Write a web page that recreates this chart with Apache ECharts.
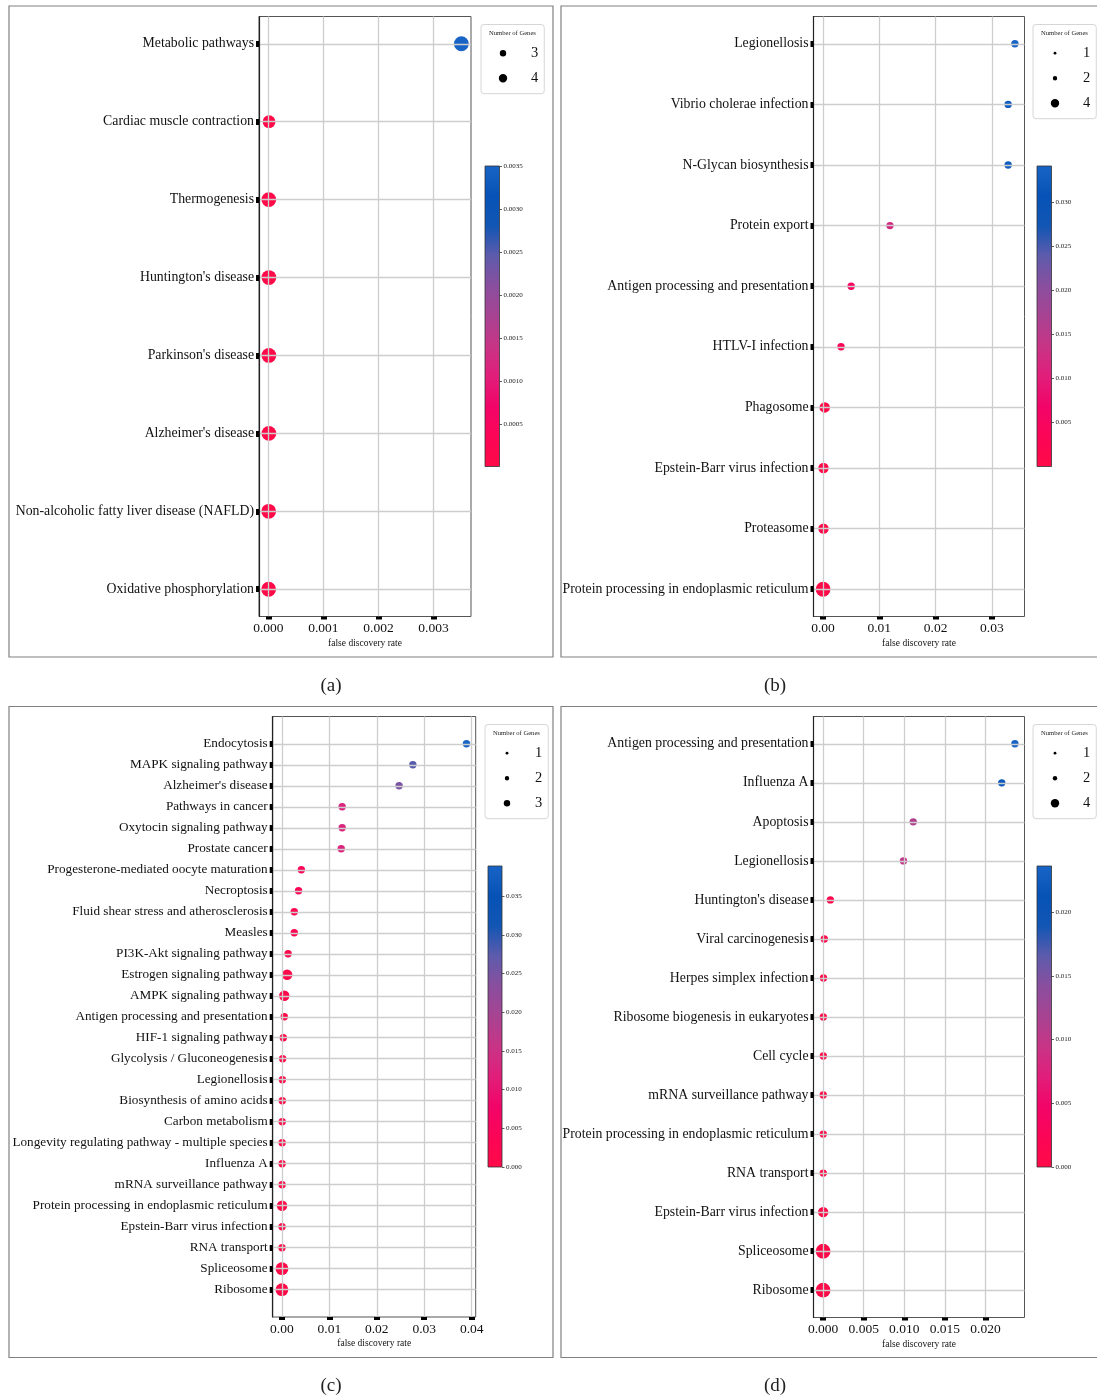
<!DOCTYPE html>
<html>
<head>
<meta charset="utf-8">
<title>KEGG enrichment bubble plots</title>
<script src="https://cdn.jsdelivr.net/npm/echarts@6/dist/echarts.min.js"></script>
<style>
  html, body { margin: 0; padding: 0; background: #fff; }
  #chart { width: 1097px; height: 1398px; }
</style>
</head>
<body>
<div id="chart"></div>
<script>
// ---- panel (a) ----
const aNames = ['Metabolic pathways', 'Cardiac muscle contraction', 'Thermogenesis', "Huntington's disease",
  "Parkinson's disease", "Alzheimer's disease", 'Non-alcoholic fatty liver disease (NAFLD)', 'Oxidative phosphorylation'];
const aFdr = [0.003505, 0.000012, 0.000008, 0.00001, 0.000009, 0.00001, 0.000006, 0.000005];
const aGenes = [4, 3, 4, 4, 4, 4, 4, 4];
const aTicks = [0, 0.001, 0.002, 0.003];
const aBarTicks = [0.0005, 0.001, 0.0015, 0.002, 0.0025, 0.003, 0.0035];

// ---- panel (b) ----
const bNames = ['Legionellosis', 'Vibrio cholerae infection', 'N-Glycan biosynthesis', 'Protein export',
  'Antigen processing and presentation', 'HTLV-I infection', 'Phagosome', 'Epstein-Barr virus infection',
  'Proteasome', 'Protein processing in endoplasmic reticulum'];
const bFdr = [0.0341, 0.0329, 0.0329, 0.0119, 0.0050, 0.0032, 0.0003, 0.00008, 0.00008, 0.00001];
const bGenes = [1, 1, 1, 1, 1, 1, 2, 2, 2, 4];
const bTicks = [0, 0.01, 0.02, 0.03];
const bBarTicks = [0.005, 0.01, 0.015, 0.02, 0.025, 0.03];

// ---- panel (c) ----
const cNames = ['Endocytosis', 'MAPK signaling pathway', "Alzheimer's disease", 'Pathways in cancer',
  'Oxytocin signaling pathway', 'Prostate cancer', 'Progesterone-mediated oocyte maturation', 'Necroptosis',
  'Fluid shear stress and atherosclerosis', 'Measles', 'PI3K-Akt signaling pathway', 'Estrogen signaling pathway',
  'AMPK signaling pathway', 'Antigen processing and presentation', 'HIF-1 signaling pathway',
  'Glycolysis / Gluconeogenesis', 'Legionellosis', 'Biosynthesis of amino acids', 'Carbon metabolism',
  'Longevity regulating pathway - multiple species', 'Influenza A', 'mRNA surveillance pathway',
  'Protein processing in endoplasmic reticulum', 'Epstein-Barr virus infection', 'RNA transport',
  'Spliceosome', 'Ribosome'];
const cFdr = [0.0389, 0.0276, 0.0247, 0.0127, 0.0127, 0.0125, 0.0041, 0.0035, 0.0026, 0.0026, 0.0013, 0.0011,
  0.0005, 0.0005, 0.0003, 0.00015, 0.0001, 0.00008, 0.00006, 0.00005, 0.00004, 0.00004, 0.00003, 0.00003,
  0.00002, 0.000005, 0.000001];
const cGenes = [1, 1, 1, 1, 1, 1, 1, 1, 1, 1, 1, 2, 2, 1, 1, 1, 1, 1, 1, 1, 1, 1, 2, 1, 1, 3, 3];
const cTicks = [0, 0.01, 0.02, 0.03, 0.04];
const cBarTicks = [0, 0.005, 0.01, 0.015, 0.02, 0.025, 0.03, 0.035];

// ---- panel (d) ----
const dNames = ['Antigen processing and presentation', 'Influenza A', 'Apoptosis', 'Legionellosis',
  "Huntington's disease", 'Viral carcinogenesis', 'Herpes simplex infection', 'Ribosome biogenesis in eukaryotes',
  'Cell cycle', 'mRNA surveillance pathway', 'Protein processing in endoplasmic reticulum', 'RNA transport',
  'Epstein-Barr virus infection', 'Spliceosome', 'Ribosome'];
const dFdr = [0.02362, 0.0220, 0.0111, 0.0099, 0.0009, 0.00015, 0.00005, 0.00003, 0.00003, 0.00002, 0.00002,
  0.00002, 0.00001, 0.000003, 0.000001];
const dGenes = [1, 1, 1, 1, 1, 1, 1, 1, 1, 1, 1, 1, 2, 4, 4];
const dTicks = [0, 0.005, 0.01, 0.015, 0.02];
const dBarTicks = [0, 0.005, 0.01, 0.015, 0.02];

// colour map, low (red) -> high (blue)
const colorMap = ['#ff0a48', '#fb0556', '#f20468', '#e11e7a', '#c83486', '#a84392',
  '#8a4e9e', '#5e5bac', '#1256b4', '#0652b6', '#1864c6'];

const FONT = '"Liberation Serif", "Times New Roman", serif';
const legendDot = {1: 2.8, 2: 4.4, 3: 6.4, 4: 8.4};

const panels = [
  {names: aNames, fdr: aFdr, genes: aGenes, ticks: aTicks, barTicks: aBarTicks, digits: 3, barDigits: 4,
    caption: '(a)', cap: [331, 686], frame: [9, 6, 544, 651], grid: [259, 16.5, 212, 600],
    bar: [485, 166, 14.5, 300.5], legend: [481, 24.5], labelSize: 13.8},
  {names: bNames, fdr: bFdr, genes: bGenes, ticks: bTicks, barTicks: bBarTicks, digits: 2, barDigits: 3,
    caption: '(b)', cap: [775, 686], frame: [561, 6, 560, 651], grid: [813.5, 16.5, 211, 600],
    bar: [1037, 166, 14.5, 300.5], legend: [1033, 24.5], labelSize: 13.8},
  {names: cNames, fdr: cFdr, genes: cGenes, ticks: cTicks, barTicks: cBarTicks, digits: 2, barDigits: 3,
    caption: '(c)', cap: [331, 1386], frame: [9, 706.5, 544, 651], grid: [272.7, 716.5, 203, 600.5],
    bar: [488, 866, 14, 301], legend: [485, 724.5], labelSize: 13.2},
  {names: dNames, fdr: dFdr, genes: dGenes, ticks: dTicks, barTicks: dBarTicks, digits: 3, barDigits: 3,
    caption: '(d)', cap: [775, 1386], frame: [561, 706.5, 560, 651], grid: [813.5, 716.5, 211, 601],
    bar: [1037, 866, 14.5, 301], legend: [1033, 724.5], labelSize: 13.8}
];

function dotIcon(d) {
  const r = d / 2;
  return 'path://M0 0M37 14M' + (14 - r) + ' 7a' + r + ' ' + r + ' 0 1 0 ' + (2 * r) + ' 0a' + r + ' ' + r +
    ' 0 1 0 ' + (-2 * r) + ' 0Z';
}

const chart = echarts.init(document.getElementById('chart'));
const option = {
  animation: false,
  backgroundColor: '#fff',
  grid: [], xAxis: [], yAxis: [], series: [], visualMap: [], legend: [], title: [], graphic: []
};

panels.forEach((p, i) => {
  const n = p.names.length;
  const lo = Math.min(...p.fdr);
  const hi = Math.max(...p.fdr);
  const pad = (hi - lo) * 0.05;
  const idx = p.names.map((_, k) => k);
  const mainG = 2 * i;
  const barG = 2 * i + 1;

  // plot area
  option.grid[mainG] = {
    left: p.grid[0], top: p.grid[1], width: p.grid[2], height: p.grid[3], outerBoundsMode: 'none',
    show: true, borderColor: '#555', borderWidth: 1, backgroundColor: '#fff'
  };
  option.xAxis[mainG] = {
    type: 'value', gridIndex: mainG, min: lo - pad, max: hi + pad, z: 3,
    axisLine: {show: false, onZero: false},
    axisTick: {show: true, customValues: p.ticks, length: 3, lineStyle: {color: '#000', width: 6}},
    axisLabel: {customValues: p.ticks, formatter: v => v.toFixed(p.digits), fontFamily: FONT, fontSize: 13.5,
      color: '#111', margin: 5},
    splitLine: {show: true, lineStyle: {color: '#cdcdcd', width: 1.3}},
    name: 'false discovery rate', nameLocation: 'middle', nameGap: 21.5,
    nameTextStyle: {fontFamily: FONT, fontSize: 9.5, color: '#111'}
  };
  option.yAxis[mainG] = {
    type: 'value', gridIndex: mainG, inverse: true, min: -0.05 * (n - 1), max: 1.05 * (n - 1), z: 3,
    axisLine: {show: true, onZero: false, lineStyle: {color: '#222', width: 1.2}},
    axisTick: {show: true, customValues: idx, length: 3, lineStyle: {color: '#000', width: 6}},
    axisLabel: {customValues: idx, formatter: v => p.names[Math.round(v)], fontFamily: FONT,
      fontSize: p.labelSize, color: '#111', margin: 5},
    splitLine: {show: true, lineStyle: {color: '#cdcdcd', width: 1.3}}
  };

  // one scatter series per gene count, so the size legend can list them
  const counts = [...new Set(p.genes)].sort((a, b) => a - b);
  const sIdx = [];
  counts.forEach(c => {
    sIdx.push(option.series.length);
    option.series.push({
      type: 'scatter', name: String(c), xAxisIndex: mainG, yAxisIndex: mainG,
      symbol: 'circle', symbolSize: 7.4 * Math.sqrt(c),
      data: p.fdr.map((v, k) => [v, k, p.genes[k]]).filter(d => d[2] === c),
      itemStyle: {opacity: 1}, emphasis: {disabled: true}
    });
  });

  // colour bar
  const cbMin = Math.min(lo, p.barTicks[0]);
  const cbMax = hi;
  option.visualMap.push({
    type: 'continuous', show: false, seriesIndex: sIdx, dimension: 0, min: cbMin, max: cbMax,
    inRange: {color: colorMap}
  });
  option.grid[barG] = {
    left: p.bar[0], top: p.bar[1], width: p.bar[2], height: p.bar[3], outerBoundsMode: 'none',
    show: true, borderColor: '#333', borderWidth: 0.8,
    backgroundColor: {
      type: 'linear', x: 0, y: 1, x2: 0, y2: 0,
      colorStops: colorMap.map((c, k) => ({offset: k / (colorMap.length - 1), color: c}))
    }
  };
  option.xAxis[barG] = {type: 'value', gridIndex: barG, show: false, min: 0, max: 1};
  option.yAxis[barG] = {
    type: 'value', gridIndex: barG, position: 'right', min: cbMin, max: cbMax,
    axisLine: {show: false, onZero: false},
    axisTick: {show: true, customValues: p.barTicks, length: 2.5, lineStyle: {color: '#333', width: 0.8}},
    axisLabel: {customValues: p.barTicks, formatter: v => v.toFixed(p.barDigits), fontFamily: FONT,
      fontSize: 7, color: '#222', margin: 4},
    splitLine: {show: false}
  };

  // size legend
  option.legend.push({
    orient: 'vertical', left: p.legend[0], top: p.legend[1], padding: [21.2, 6, 8, 8],
    itemGap: 10, itemWidth: 37, itemHeight: 14, borderColor: '#d6d6d6', borderWidth: 1, borderRadius: 3,
    backgroundColor: '#fff', selectedMode: false,
    textStyle: {fontFamily: FONT, fontSize: 14.5, color: '#111', lineHeight: 14},
    data: counts.map(c => ({name: String(c), icon: dotIcon(legendDot[c]), itemStyle: {color: '#000'}}))
  });
  option.title.push({
    text: 'Number of Genes', left: p.legend[0] + 8, top: p.legend[1] + 5, padding: 0,
    textStyle: {fontFamily: FONT, fontSize: 6.6, fontWeight: 'normal', color: '#222'}
  });

  // panel frame and caption
  option.graphic.push({
    type: 'rect', silent: true,
    shape: {x: p.frame[0], y: p.frame[1], width: p.frame[2], height: p.frame[3]},
    style: {fill: 'none', stroke: '#808080', lineWidth: 1.2}
  });
  option.graphic.push({
    type: 'text', x: p.cap[0], y: p.cap[1], silent: true,
    style: {text: p.caption, fontFamily: FONT, fontSize: 19, fill: '#222', align: 'center', verticalAlign: 'middle'}
  });
});

chart.setOption(option);
</script>
</body>
</html>
